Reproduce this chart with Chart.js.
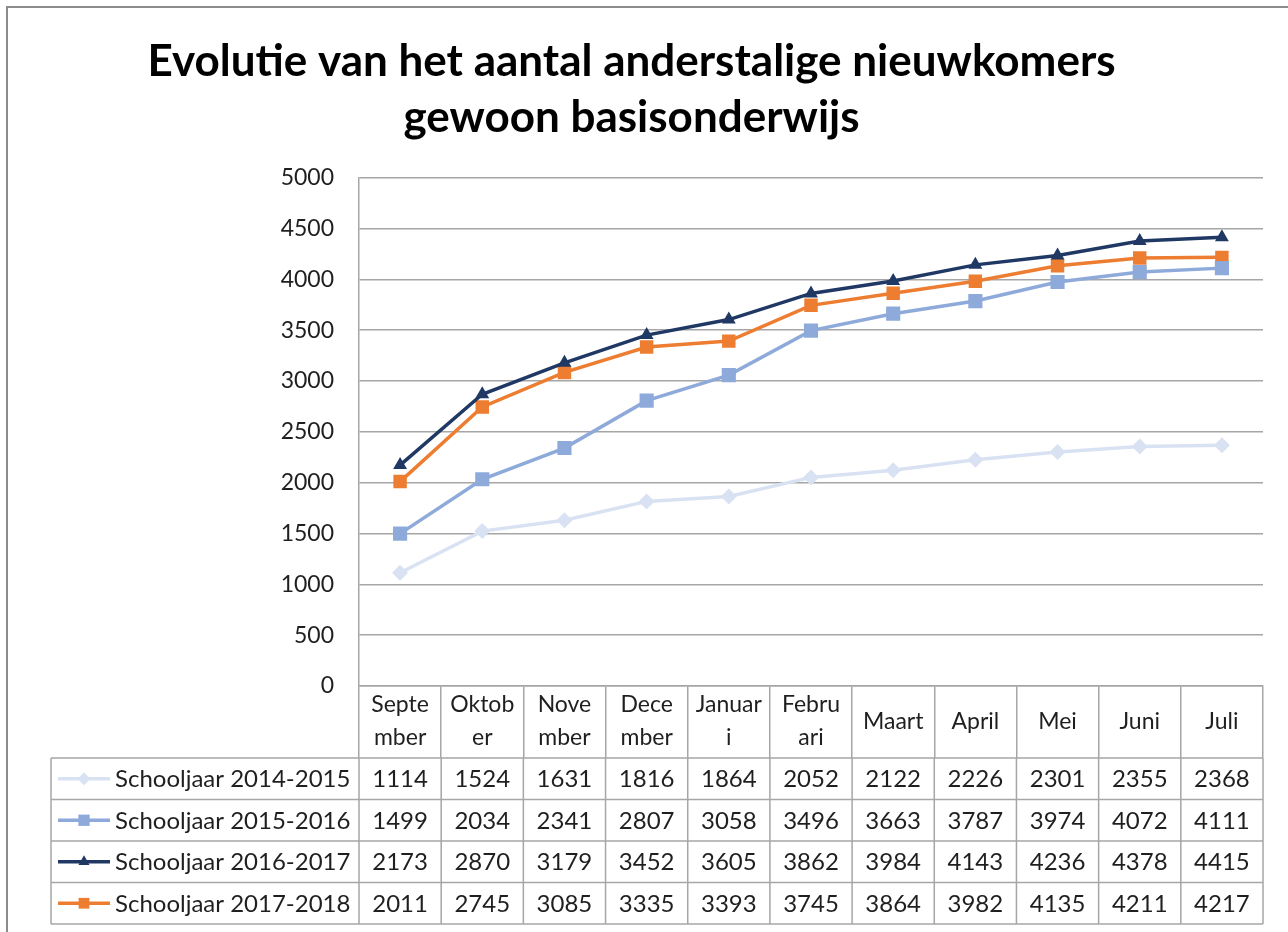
<!DOCTYPE html>
<html>
<head>
<meta charset="utf-8">
<script src="https://cdn.jsdelivr.net/npm/chart.js"></script>
<style>
    body { margin: 0; background: #fff; }
    canvas { display: block; }
</style>
</head>
<body>
<canvas id="myChart" width="1288" height="932"></canvas>
<script>
// categories (header of the data table, split like in the original)
const maanden = [['Septe', 'mber'], ['Oktob', 'er'], ['Nove', 'mber'], ['Dece', 'mber'], ['Januar', 'i'], ['Febru', 'ari'], 'Maart', 'April', 'Mei', 'Juni', 'Juli'];

const reeksNamen = ['Schooljaar 2014-2015', 'Schooljaar 2015-2016', 'Schooljaar 2016-2017', 'Schooljaar 2017-2018'];

const sj2014 = [1114, 1524, 1631, 1816, 1864, 2052, 2122, 2226, 2301, 2355, 2368];
const sj2015 = [1499, 2034, 2341, 2807, 3058, 3496, 3663, 3787, 3974, 4072, 4111];
const sj2016 = [2173, 2870, 3179, 3452, 3605, 3862, 3984, 4143, 4236, 4378, 4415];
const sj2017 = [2011, 2745, 3085, 3335, 3393, 3745, 3864, 3982, 4135, 4211, 4217];

const yMin = 0;
const yMax = 5000;
const yStap = 500;

const titel = ['Evolutie van het aantal anderstalige nieuwkomers', 'gewoon basisonderwijs'];

const lijnKleur = '#a6a6a6';
const tekstFont = '24px Lato';

function tekenPunt(ctx, stijl, r, x, y) {
    if (Chart.helpers && Chart.helpers.drawPoint) {
        Chart.helpers.drawPoint(ctx, {pointStyle: stijl, radius: r, rotation: 0, borderWidth: 0}, x, y);
    } else {
        ctx.fillRect(x - r * 0.7, y - r * 0.7, r * 1.4, r * 1.4);
    }
}

// data table under the chart + outer frame
const tabelPlugin = {
    id: 'tabel',
    afterDraw(chart) {
        const ctx = chart.ctx;
        const xs = chart.scales.x;
        const area = chart.chartArea;
        const top = xs.bottom;
        const rijH = 41.5;
        const links = 51;
        const n = maanden.length;

        ctx.save();
        ctx.strokeStyle = lijnKleur;
        ctx.lineWidth = 1.5;
        ctx.beginPath();
        for (let k = 0; k <= reeksNamen.length; k++) {
            ctx.moveTo(links, top + k * rijH);
            ctx.lineTo(area.right, top + k * rijH);
        }
        const randen = [links];
        for (let i = 0; i <= n; i++) randen.push(xs.getPixelForValue(i - 0.5));
        randen.forEach(x => {
            ctx.moveTo(x, top);
            ctx.lineTo(x, top + reeksNamen.length * rijH);
        });
        ctx.stroke();

        ctx.font = tekstFont;
        ctx.textBaseline = 'middle';
        chart.data.datasets.forEach((ds, r) => {
            const cy = top + r * rijH + rijH / 2;
            // legend key
            ctx.strokeStyle = ds.borderColor;
            ctx.lineWidth = ds.borderWidth;
            ctx.beginPath();
            ctx.moveTo(58, cy);
            ctx.lineTo(110, cy);
            ctx.stroke();
            ctx.fillStyle = ds.backgroundColor;
            tekenPunt(ctx, ds.pointStyle, ds.pointRadius * 0.8, 84, cy);

            ctx.fillStyle = '#1f1f1f';
            ctx.textAlign = 'left';
            ctx.fillText(ds.label, 115, cy + 1);
            ctx.textAlign = 'center';
            ds.data.forEach((v, i) => {
                ctx.fillText(String(v), xs.getPixelForValue(i), cy + 1);
            });
        });

        // outer chart frame
        ctx.strokeStyle = '#8c8c8c';
        ctx.lineWidth = 2;
        ctx.strokeRect(7, 7, 1400, 1000);
        ctx.restore();
    }
};

const ctx = document.getElementById('myChart').getContext('2d');

const myChart = new Chart(ctx, {
    type: 'line',
    data: {
        labels: maanden,
        datasets: [
            {
                label: reeksNamen[0],
                data: sj2014,
                borderColor: '#d9e2f3',
                backgroundColor: '#d9e2f3',
                borderWidth: 3.5,
                pointStyle: 'rectRot',
                pointRadius: 8,
                pointBorderWidth: 0
            },
            {
                label: reeksNamen[1],
                data: sj2015,
                borderColor: '#8eaadb',
                backgroundColor: '#8eaadb',
                borderWidth: 3.5,
                pointStyle: 'rect',
                pointRadius: 10,
                pointBorderWidth: 0
            },
            {
                label: reeksNamen[2],
                data: sj2016,
                borderColor: '#203864',
                backgroundColor: '#203864',
                borderWidth: 3.5,
                pointStyle: 'triangle',
                pointRadius: 8,
                pointBorderWidth: 0
            },
            {
                label: reeksNamen[3],
                data: sj2017,
                borderColor: '#ed7d31',
                backgroundColor: '#ed7d31',
                borderWidth: 3.5,
                pointStyle: 'rect',
                pointRadius: 9.5,
                pointBorderWidth: 0
            }
        ]
    },
    options: {
        responsive: false,
        animation: false,
        devicePixelRatio: 1,
        layout: {
            padding: {left: 0, right: 25, top: 0, bottom: 174}
        },
        plugins: {
            legend: {display: false},
            tooltip: {enabled: false},
            title: {
                display: true,
                text: titel,
                color: '#000',
                font: {family: 'Lato', size: 44, weight: 'bold', lineHeight: 1.27},
                padding: {top: 34, bottom: 32}
            }
        },
        scales: {
            x: {
                offset: true,
                grid: {
                    offset: true,
                    drawOnChartArea: false,
                    drawTicks: true,
                    tickLength: 72,
                    color: lijnKleur,
                    lineWidth: 1.5
                },
                border: {display: true, color: lijnKleur, width: 1.5},
                ticks: {
                    color: '#1f1f1f',
                    font: {family: 'Lato', size: 23, lineHeight: 1.43},
                    crossAlign: 'center',
                    padding: -53,
                    maxRotation: 0,
                    autoSkip: false
                },
                afterFit(scale) { scale.height = 72; }
            },
            y: {
                min: yMin,
                max: yMax,
                ticks: {
                    stepSize: yStap,
                    color: '#1f1f1f',
                    font: {family: 'Lato', size: 23},
                    padding: 25,
                    callback: (v) => String(v)
                },
                grid: {
                    color: lijnKleur,
                    lineWidth: 1.5,
                    drawTicks: false
                },
                border: {display: true, color: lijnKleur, width: 1.5},
                afterFit(scale) { scale.width = 359; }
            }
        }
    },
    plugins: [tabelPlugin]
});
</script>
</body>
</html>
